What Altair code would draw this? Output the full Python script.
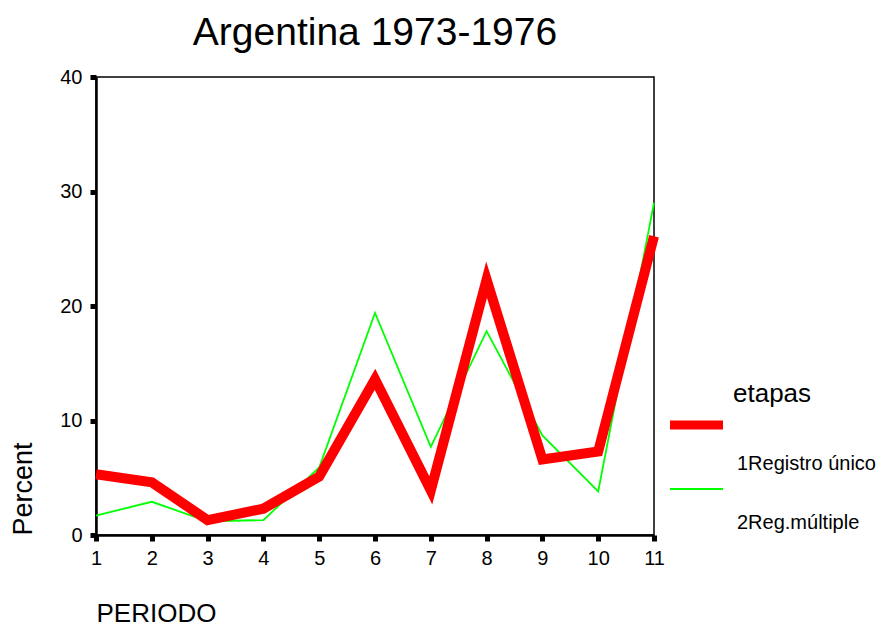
import altair as alt
import pandas as pd

periods = [1, 2, 3, 4, 5, 6, 7, 8, 9, 10, 11]
series_names = ["1Registro único", "2Reg.múltiple"]
registro_unico = [5.3, 4.6, 1.3, 2.3, 5.1, 13.6, 3.9, 22.3, 6.6, 7.3, 26.1]
reg_multiple = [1.7, 2.9, 1.2, 1.3, 5.9, 19.4, 7.7, 17.8, 8.7, 3.8, 29.0]
series_colors = ["#FF0000", "#00FF00"]
series_widths = [10, 1.8]
y_ticks = [0, 10, 20, 30, 40]
title_text = "Argentina 1973-1976"
legend_title = "etapas"
x_title = "PERIODO"
y_title = "Percent"

FONT = "Liberation Sans"
W, H = 558, 458

df = pd.DataFrame({
    "PERIODO": periods + periods,
    "Percent": registro_unico + reg_multiple,
    "etapas": [series_names[0]] * len(periods) + [series_names[1]] * len(periods),
})

x_enc = alt.X(
    "PERIODO:Q",
    scale=alt.Scale(domain=[1, 11], nice=False, zero=False),
    axis=alt.Axis(
        values=periods, format="d", title=x_title,
        titleX=0, titleY=86, titleAlign="left", titleBaseline="alphabetic",
        titleFontSize=26, labelFontSize=20, labelPadding=7,
        labelFlush=False, labelOverlap=False,
    ),
)
y_enc = alt.Y(
    "Percent:Q",
    scale=alt.Scale(domain=[0, 40], nice=False),
    axis=alt.Axis(
        values=y_ticks, title=y_title,
        titleAngle=270, titleX=-65, titleY=H, titleAlign="left",
        titleBaseline="alphabetic", titleFontSize=27,
        labelFontSize=20, labelPadding=8,
    ),
)
color_enc = alt.Color(
    "etapas:N",
    scale=alt.Scale(domain=series_names, range=series_colors),
    legend=None,
)
width_enc = alt.StrokeWidth(
    "etapas:N",
    scale=alt.Scale(domain=series_names, range=series_widths),
    legend=None,
)

base = alt.Chart(df)
green_line = base.transform_filter(
    alt.datum.etapas == series_names[1]
).mark_line(strokeJoin="miter").encode(
    x=x_enc, y=y_enc, color=color_enc, strokeWidth=width_enc
)
red_line = base.transform_filter(
    alt.datum.etapas == series_names[0]
).mark_line(strokeJoin="miter").encode(
    x=x_enc, y=y_enc, color=color_enc, strokeWidth=width_enc
)

title_layer = alt.Chart(alt.Data(values=[{"t": title_text}])).mark_text(
    font=FONT, fontSize=39, align="center", baseline="alphabetic", color="black"
).encode(x=alt.value(W / 2), y=alt.value(-32), text="t:N")

leg_title = alt.Chart(alt.Data(values=[{"t": legend_title}])).mark_text(
    font=FONT, fontSize=26, align="left", baseline="alphabetic", color="black"
).encode(x=alt.value(637), y=alt.value(325), text="t:N")

leg_sym1 = alt.Chart(alt.Data(values=[{"t": series_names[0]}])).mark_rule(
    color=series_colors[0], strokeWidth=9
).encode(x=alt.value(574), x2=alt.value(627), y=alt.value(348))
leg_lab1 = alt.Chart(alt.Data(values=[{"t": series_names[0]}])).mark_text(
    font=FONT, fontSize=20, align="left", baseline="alphabetic", color="black"
).encode(x=alt.value(641), y=alt.value(393), text="t:N")

leg_sym2 = alt.Chart(alt.Data(values=[{"t": series_names[1]}])).mark_rule(
    color=series_colors[1], strokeWidth=series_widths[1]
).encode(x=alt.value(574), x2=alt.value(627), y=alt.value(412))
leg_lab2 = alt.Chart(alt.Data(values=[{"t": series_names[1]}])).mark_text(
    font=FONT, fontSize=20, align="left", baseline="alphabetic", color="black"
).encode(x=alt.value(641), y=alt.value(452), text="t:N")

chart = alt.layer(
    green_line, red_line, title_layer, leg_title, leg_sym1, leg_lab1, leg_sym2, leg_lab2
).properties(
    width=W, height=H,
    padding={"left": 88, "top": 69, "right": 228, "bottom": 92},
    autosize=alt.AutoSizeParams(type="none"),
    background="white",
).configure_view(
    stroke="black", strokeWidth=1.5
).configure_axis(
    grid=False, domainColor="black", domainWidth=2.5,
    tickColor="black", tickWidth=5, tickSize=6,
    labelColor="black", titleColor="black",
    labelFont=FONT, titleFont=FONT,
    labelFontWeight="normal", titleFontWeight="normal",
)

chart.save("out.html", embed_options={"renderer": "svg", "actions": False})
